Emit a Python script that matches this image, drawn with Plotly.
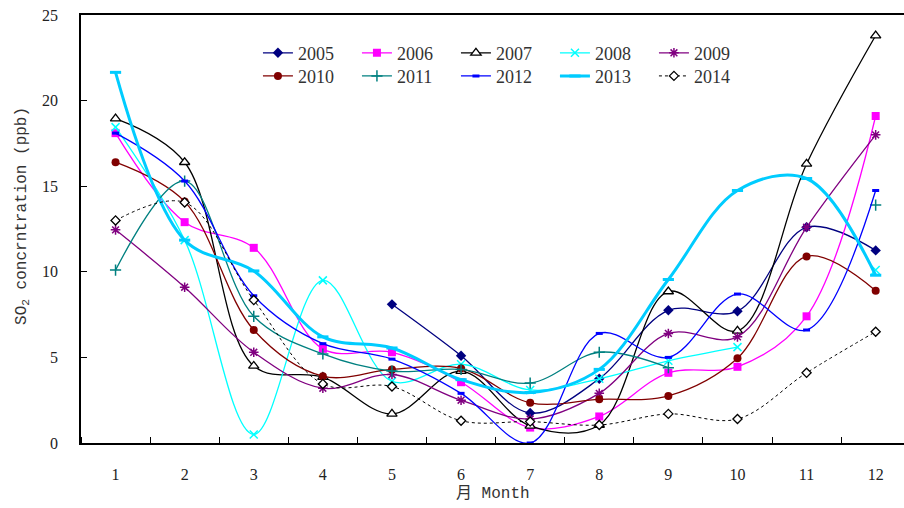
import plotly.graph_objects as go

months = list(range(1, 13))
month_labels = [str(m) for m in months]

y2005 = [None, None, None, None, 8.1, 5.1, 1.75, 3.75, 7.75, 7.7, 12.6, 11.25]
y2006 = [18.1, 12.9, 11.4, 5.5, 5.3, 3.55, 0.9, 1.55, 4.1, 4.45, 7.4, 19.1]
y2007 = [18.95, 16.4, 4.5, 3.85, 1.7, 4.2, 1.0, 1.05, 8.85, 6.55, 16.3, 23.8]
y2008 = [18.45, 11.85, 0.5, 9.5, 3.6, 4.6, 3.1, 3.75, 4.8, 5.6, None, 10.1]
y2009 = [12.45, 9.1, 5.3, 3.2, 4.0, 2.5, 1.4, 2.9, 6.4, 6.2, 12.6, 18.0]
y2010 = [16.4, 14.1, 6.6, 3.9, 4.3, 4.35, 2.35, 2.55, 2.75, 4.95, 10.9, 8.9]
y2011 = [10.1, 15.3, 7.4, 5.2, 4.2, 4.3, 3.5, 5.3, 4.4, None, None, 13.9]
y2012 = [18.1, 15.3, 8.6, 5.8, 4.9, 2.9, 0.0, 6.4, 5.0, 8.7, 6.6, 14.75]
y2013 = [21.65, 11.85, 10.05, 6.2, 5.55, 3.7, 2.95, 4.3, 9.55, 14.75, 15.45, 9.8]
y2014 = [13.0, 14.05, 8.35, 3.45, 3.3, 1.3, 1.25, 1.05, 1.7, 1.4, 4.1, 6.5]

series = [
    ("2005", y2005, "#000080", 1.3, "solid", dict(symbol="diamond", size=8, color="#000080"), "legend"),
    ("2006", y2006, "#FF00FF", 1.3, "solid", dict(symbol="square", size=8, color="#FF00FF"), "legend"),
    ("2007", y2007, "#000000", 1.3, "solid", dict(symbol="triangle-up", size=9, color="white", line=dict(color="#000000", width=1.3)), "legend"),
    ("2008", y2008, "#00FFFF", 1.3, "solid", dict(symbol="x-thin-open", size=8, color="#00FFFF", line=dict(color="#00FFFF", width=1.5)), "legend"),
    ("2009", y2009, "#800080", 1.3, "solid", dict(symbol="asterisk-open", size=8, color="#800080", line=dict(color="#800080", width=1.5)), "legend"),
    ("2010", y2010, "#800000", 1.3, "solid", dict(symbol="circle", size=8, color="#800000"), "legend2"),
    ("2011", y2011, "#008080", 1.3, "solid", dict(symbol="cross-thin-open", size=8, color="#008080", line=dict(color="#008080", width=1.5)), "legend2"),
    ("2012", y2012, "#0000FF", 1.3, "solid", dict(symbol="line-ew-open", size=5, color="#0000FF", line=dict(color="#0000FF", width=3)), "legend2"),
    ("2013", y2013, "#00CCFF", 3.0, "solid", dict(symbol="line-ew-open", size=8, color="#00CCFF", line=dict(color="#00CCFF", width=3)), "legend2"),
    ("2014", y2014, "#000000", 1.0, "3px,3px", dict(symbol="diamond", size=7, color="white", line=dict(color="#000000", width=1.3)), "legend2"),
]

fig = go.Figure()
for name, ys, col, w, dash, mk, lg in series:
    fig.add_trace(go.Scatter(
        x=months, y=ys, name=name, mode="lines+markers",
        line=dict(color=col, width=w, dash=dash, shape="spline", smoothing=1.0),
        marker=mk, connectgaps=False, legend=lg,
    ))

serif = "Liberation Serif"
mono = "Liberation Mono"
tick_font = dict(family=serif, size=16, color="#222222")
legend_common = dict(
    orientation="h", xanchor="left", yanchor="middle",
    font=dict(family=serif, size=18, color="#333333"),
    bgcolor="rgba(0,0,0,0)", entrywidth=54, entrywidthmode="pixels",
    tracegroupgap=0, itemwidth=30,
)

fig.update_layout(
    width=904, height=508,
    margin=dict(l=81, r=0, t=15, b=65),
    plot_bgcolor="white", paper_bgcolor="white",
    showlegend=True,
    legend=dict(x=0.215, y=0.911, **legend_common),
    legend2=dict(x=0.215, y=0.857, **legend_common),
    xaxis=dict(
        range=[0.5, 12.41], tickmode="array", tickvals=months, ticktext=month_labels,
        ticks="", showgrid=False, zeroline=False,
        showline=True, linecolor="#000000", linewidth=1.5, mirror=True,
        tickfont=tick_font, ticklabelstandoff=16,
        minor=dict(tickmode="linear", tick0=0.5, dtick=1, ticks="inside", ticklen=6,
                   tickcolor="#000000", tickwidth=1, showgrid=False),
    ),
    yaxis=dict(
        range=[0, 25], tickmode="linear", tick0=0, dtick=5,
        ticks="inside", ticklen=6, tickcolor="#000000", tickwidth=1,
        showgrid=False, zeroline=False,
        showline=True, linecolor="#000000", linewidth=1.5,
        tickfont=tick_font, ticklabelstandoff=18,
    ),
    annotations=[
        dict(text="SO<sub>2</sub> concrntration (ppb)", xref="paper", yref="paper",
             x=-0.072, y=0.53, xanchor="center", yanchor="middle", textangle=-90,
             showarrow=False, font=dict(family=mono, size=16, color="#333333")),
        dict(text="月 Month", xref="paper", yref="paper",
             x=0.5, y=-0.12, xanchor="center", yanchor="middle",
             showarrow=False, font=dict(family=mono + ", Noto Sans CJK SC", size=16, color="#333333")),
    ],
)

fig.write_html("out.html")
